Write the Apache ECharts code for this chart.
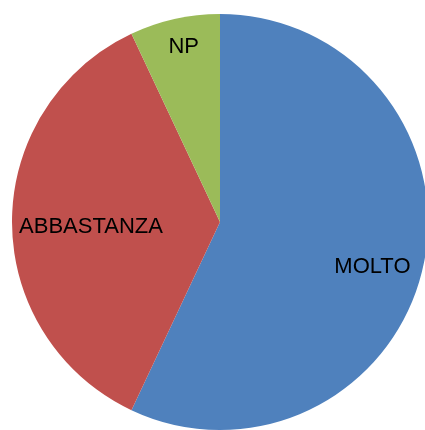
<!DOCTYPE html>
<html>
<head>
<meta charset="utf-8">
<script src="https://cdn.jsdelivr.net/npm/echarts@6/dist/echarts.min.js"></script>
<style>
html, body { margin: 0; padding: 0; background: #fff; }
#chart { width: 425px; height: 430px; }
</style>
</head>
<body>
<div id="chart"></div>
<script>
// categorie e valori (percentuali)
var categories = ['MOLTO', 'ABBASTANZA', 'NP'];
var values = [57, 36, 7];
var colors = ['#4F81BD', '#C0504D', '#9BBB59'];
// spostamento delle etichette rispetto alla posizione "inside"
var labelOffsets = [[48, 22], [-22, 5], [-13, -71]];

var myChart = echarts.init(document.getElementById('chart'));

var pieData = categories.map(function (name, i) {
    return {
        name: name,
        value: values[i],
        itemStyle: { color: colors[i] },
        label: { offset: labelOffsets[i] }
    };
});

var option = {
    animation: false,
    series: [
        {
            type: 'pie',
            center: [220, 222],
            radius: 208,
            startAngle: 90,
            clockwise: true,
            label: {
                show: true,
                position: 'inside',
                formatter: '{b}',
                color: '#000',
                fontFamily: 'Liberation Sans',
                fontSize: 22
            },
            labelLine: { show: false },
            itemStyle: { borderWidth: 0 },
            emphasis: { disabled: true },
            data: pieData
        }
    ]
};
myChart.setOption(option);
</script>
</body>
</html>
